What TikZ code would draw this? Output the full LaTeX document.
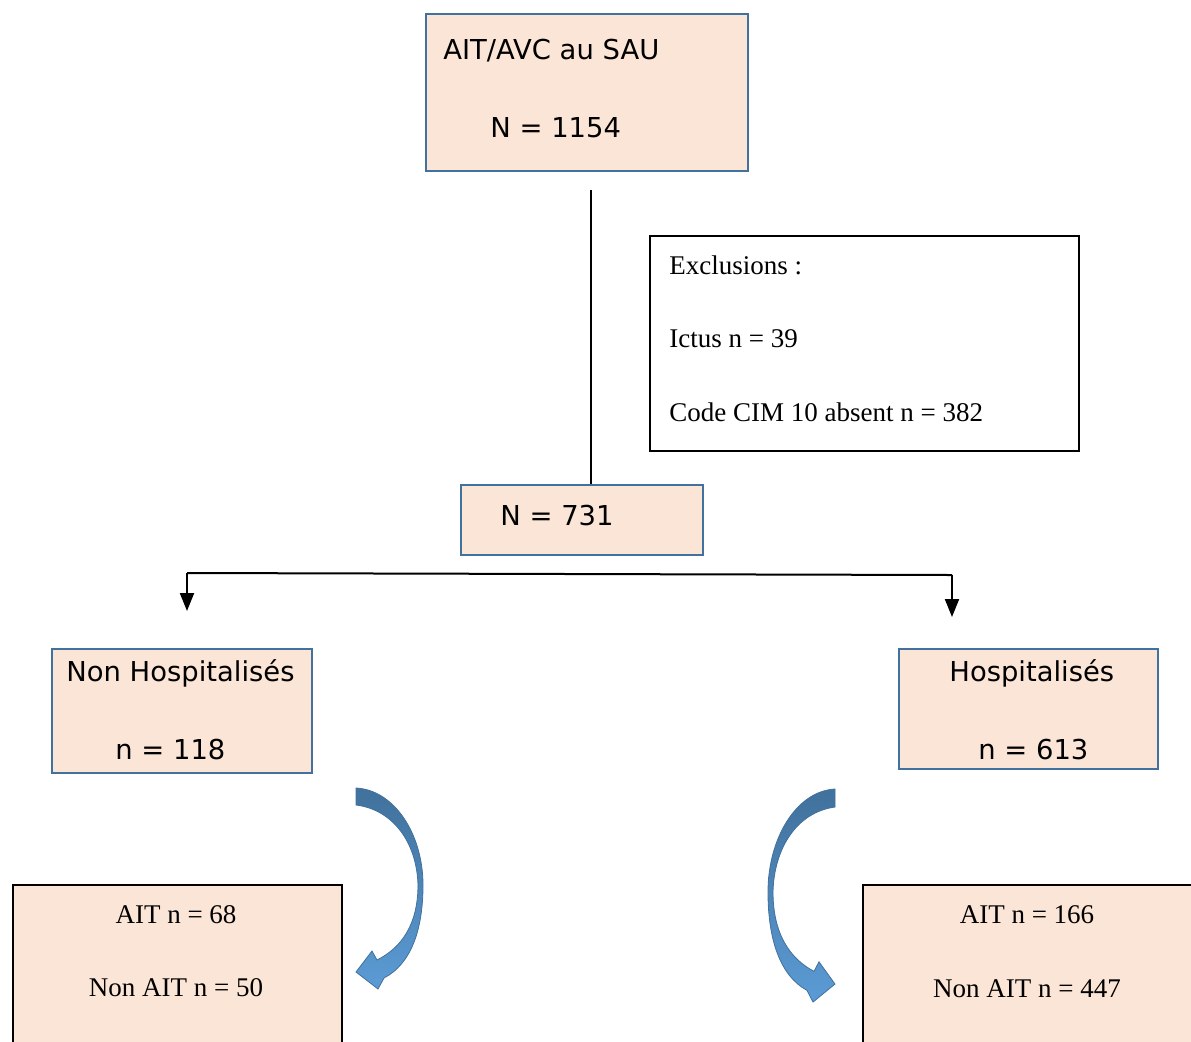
\documentclass[tikz,border=0pt]{standalone}
\usepackage{fontspec}
\setmainfont{Liberation Serif}
\newfontfamily\vsans{DejaVu Sans}
\usetikzlibrary{arrows.meta}
\definecolor{peach}{HTML}{FBE5D6}
\definecolor{boxblue}{HTML}{41719C}
\definecolor{arrowtop}{HTML}{41719C}
\definecolor{arrowbot}{HTML}{5B9BD5}
\tikzset{curvearrow/.pic={
    \shade[top color=arrowtop, bottom color=arrowbot, draw=boxblue, line width=.4pt]
      (0,0) -- (0,17) .. controls (39,22) and (61,57) .. (62,97)
      .. controls (62,137) and (45,160) .. (21,172) -- (16,163) -- (0,184)
      -- (22,201) -- (28,190) .. controls (55,176) and (67,142) .. (67,97)
      .. controls (67,47) and (39,2) .. (0,0) -- cycle;
}}
\begin{document}
\begin{tikzpicture}[x=.5pt, y=-.5pt, inner sep=0pt,
    bluebox/.style={draw=boxblue, line width=1pt, fill=peach, anchor=north west},
    blackbox/.style={draw=black, line width=1pt, anchor=north west},
    sanstxt/.style={font=\vsans\fontsize{13.7}{16}\selectfont, anchor=base west},
    seriftxt/.style={font=\fontsize{13.5}{16}\selectfont, anchor=base west}]
  \clip (0,0) rectangle (1191,1041);
  % boxes
  \node (total) [bluebox, minimum width=161pt, minimum height=78.5pt] at (425,13) {};
  \node (excl) [blackbox, minimum width=214.5pt, minimum height=107.5pt] at (649,235) {};
  \node (kept) [bluebox, minimum width=121pt, minimum height=35pt] at (460,484) {};
  \node (nonhosp) [bluebox, minimum width=130pt, minimum height=62pt] at (51,648) {};
  \node (hosp) [bluebox, minimum width=129.5pt, minimum height=60pt] at (898,648) {};
  \node (resl) [blackbox, fill=peach, minimum width=164.5pt, minimum height=100pt] at (12,884) {};
  \node (resr) [blackbox, fill=peach, minimum width=180pt, minimum height=100pt] at (862,884) {};
  % texts
  \node (t1) [sanstxt] at (443,59) {AIT/AVC au SAU};
  \node (t2) [sanstxt] at (490,137) {N = 1154};
  \node (t3) [sanstxt] at (500,525) {N = 731};
  \node (t4) [sanstxt] at (66,681) {Non Hospitalisés};
  \node (t5) [sanstxt] at (115,759) {n = 118};
  \node (t6) [sanstxt] at (949,681) {Hospitalisés};
  \node (t7) [sanstxt] at (978,759) {n = 613};
  \node (e1) [seriftxt] at (669,274) {Exclusions :};
  \node (e2) [seriftxt] at (669,347) {Ictus n = 39};
  \node (e3) [seriftxt] at (669,421) {Code CIM 10 absent n = 382};
  \node (r1) [seriftxt, anchor=base] at (176,923) {AIT n = 68};
  \node (r2) [seriftxt, anchor=base] at (176,996) {Non AIT n = 50};
  \node (r3) [seriftxt, anchor=base] at (1027,923) {AIT n = 166};
  \node (r4) [seriftxt, anchor=base] at (1027,997) {Non AIT n = 447};
  % connectors
  \coordinate (vtop) at (591,190);
  \draw[line width=.6pt] (vtop) -- (vtop |- kept.north);
  \coordinate (sl) at (187,573);
  \coordinate (sr) at (952,575);
  \coordinate (dl) at (187,611);
  \coordinate (dr) at (952,617);
  \draw[line width=1pt] (sl) -- (sr);
  \draw[line width=1pt, -{Triangle[length=9pt, width=7pt]}] (sl) -- (dl);
  \draw[line width=1pt, -{Triangle[length=9pt, width=7pt]}] (sr) -- (dr);
  % curved arrows
  \pic at (356,788) {curvearrow};
  \pic[xscale=-1, yscale=1.06] at (835,789) {curvearrow};
\end{tikzpicture}
\end{document}
